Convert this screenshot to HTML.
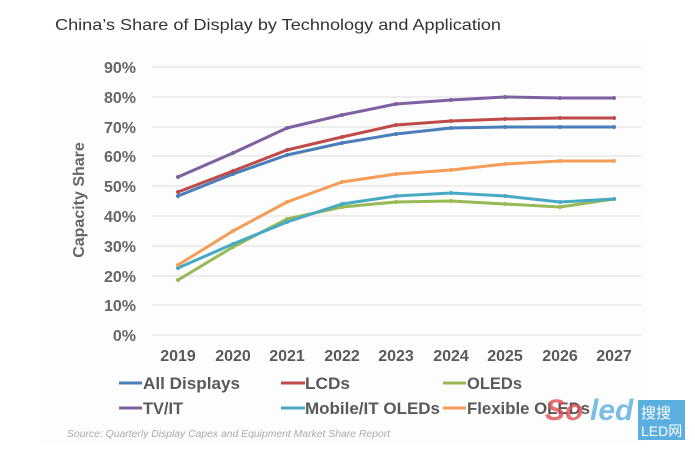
<!DOCTYPE html>
<html><head><style>
body{margin:0;background:#fff;}
svg text{font-family:"Liberation Sans",sans-serif;}
</style></head><body>
<svg width="695" height="459" xmlns="http://www.w3.org/2000/svg">
<rect width="695" height="459" fill="#fff"/>
<rect x="40" y="40" width="605" height="405" fill="#fdfdfd"/>
<text x="55" y="30" font-size="16" fill="#333" textLength="446" lengthAdjust="spacingAndGlyphs">China’s Share of Display by Technology and Application</text>
<g stroke="#e6e6e6" stroke-width="1.2">
<line x1="152" x2="641" y1="67" y2="67"/><line x1="152" x2="641" y1="97" y2="97"/>
<line x1="152" x2="641" y1="127" y2="127"/><line x1="152" x2="641" y1="156" y2="156"/>
<line x1="152" x2="641" y1="186" y2="186"/><line x1="152" x2="641" y1="216" y2="216"/>
<line x1="152" x2="641" y1="246" y2="246"/><line x1="152" x2="641" y1="276" y2="276"/>
<line x1="152" x2="641" y1="305" y2="305"/><line x1="152" x2="641" y1="335" y2="335"/>
</g>
<g font-size="16" font-weight="bold" fill="#666" text-anchor="end">
<text x="136" y="73">90%</text><text x="136" y="103">80%</text><text x="136" y="133">70%</text>
<text x="136" y="162">60%</text><text x="136" y="192">50%</text><text x="136" y="222">40%</text>
<text x="136" y="252">30%</text><text x="136" y="282">20%</text><text x="136" y="311">10%</text>
<text x="136" y="341">0%</text>
</g>
<text transform="translate(84,200) rotate(-90)" font-size="16" font-weight="bold" fill="#666" text-anchor="middle">Capacity Share</text>
<g font-size="16" font-weight="bold" fill="#595959" text-anchor="middle">
<text x="178" y="361">2019</text><text x="233" y="361">2020</text><text x="287" y="361">2021</text>
<text x="342" y="361">2022</text><text x="396" y="361">2023</text><text x="451" y="361">2024</text>
<text x="505" y="361">2025</text><text x="560" y="361">2026</text><text x="614" y="361">2027</text>
</g>
<g fill="none" stroke-width="3" stroke-linejoin="round" marker-mid="url(#m)" marker-start="url(#m)" marker-end="url(#m)">
<defs><marker id="m" markerWidth="4" markerHeight="4" refX="2" refY="2" markerUnits="userSpaceOnUse"><circle cx="2" cy="2" r="2" fill="context-stroke"/></marker></defs>
<polyline stroke="#98b954" points="178,280 233,247 287,219 342,207 396,202 451,201 505,204 560,207 614,199"/>
<polyline stroke="#46aac5" points="178,268 233,244 287,222 342,204 396,196 451,193 505,196 560,202 614,199"/>
<polyline stroke="#f59d56" points="178,265 233,231 287,202 342,182 396,174 451,170 505,164 560,161 614,161"/>
<polyline stroke="#4a7ebb" points="178,196 233,174 287,155 342,143 396,134 451,128 505,127 560,127 614,127"/>
<polyline stroke="#be4b48" points="178,192 233,171 287,150 342,137 396,125 451,121 505,119 560,118 614,118"/>
<polyline stroke="#7d60a0" points="178,177 233,153 287,128 342,115 396,104 451,100 505,97 560,98 614,98"/>
</g>
<g font-size="17" font-weight="bold" fill="#595959">
<line x1="119" x2="142" y1="383" y2="383" stroke="#4a7ebb" stroke-width="3"/><text x="143" y="389" textLength="97" lengthAdjust="spacingAndGlyphs">All Displays</text>
<line x1="281" x2="305" y1="383" y2="383" stroke="#be4b48" stroke-width="3"/><text x="305" y="389" textLength="45" lengthAdjust="spacingAndGlyphs">LCDs</text>
<line x1="443" x2="466" y1="383" y2="383" stroke="#98b954" stroke-width="3"/><text x="467" y="389" textLength="55" lengthAdjust="spacingAndGlyphs">OLEDs</text>
<line x1="119" x2="142" y1="408" y2="408" stroke="#7d60a0" stroke-width="3"/><text x="143" y="414" textLength="40" lengthAdjust="spacingAndGlyphs">TV/IT</text>
<line x1="281" x2="305" y1="408" y2="408" stroke="#46aac5" stroke-width="3"/><text x="305" y="414" textLength="135" lengthAdjust="spacingAndGlyphs">Mobile/IT OLEDs</text>
<line x1="443" x2="466" y1="408" y2="408" stroke="#f59d56" stroke-width="3"/><text x="467" y="414" textLength="123" lengthAdjust="spacingAndGlyphs">Flexible OLEDs</text>
</g>
<text x="67" y="437" font-size="10" font-style="italic" fill="#aaa" textLength="323" lengthAdjust="spacingAndGlyphs">Source: Quarterly Display Capex and Equipment Market Share Report</text>
<rect x="638" y="400" width="47" height="40" fill="#5aaee0"/>
<text x="641" y="418" font-size="15" fill="#fff" font-family="Noto Sans CJK SC">搜搜</text>
<text x="641" y="436" font-size="14" fill="#fff" font-family="Noto Sans CJK SC">LED网</text>
<text x="545" y="420" font-size="30" font-weight="bold" font-style="italic" fill="#e05050" opacity="0.8">So</text>
<text x="590" y="420" font-size="30" font-weight="bold" font-style="italic" fill="#5aaee0" opacity="0.8">led</text>
</svg>
</body></html>
